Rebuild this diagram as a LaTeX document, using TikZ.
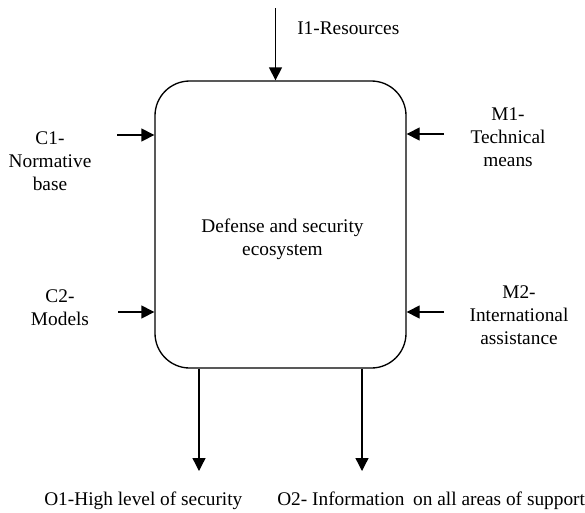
\documentclass[tikz,border=0pt]{standalone}
\usepackage{fontspec}
\setmainfont{Liberation Serif}
\usetikzlibrary{arrows.meta}
\begin{document}
\begin{tikzpicture}[x=0.75pt,y=-0.75pt,
  every node/.style={inner sep=0pt, font=\fontsize{14.5}{17.25}\selectfont},
  lbl/.style={anchor=base},
  flow/.style={line width=1pt, -{Triangle[length=9.75pt,width=9.75pt]}},
]
\useasboundingbox (0,0) rectangle (585,512);

% central activity box
\node[draw, line width=1pt, rounded corners=26pt,
      minimum width=188.25pt, minimum height=215.25pt] (eco) at (280.5,224.5) {};
\node[lbl] (teco) at (282.5,232)
  {\begin{tabular}[t]{@{}c@{}}Defense and security\\ecosystem\end{tabular}};

% free ends of the connectors
\coordinate (i1) at (275.5,8);
\coordinate (c1) at (117,135);
\coordinate (m1) at (444,134);
\coordinate (c2) at (118,312);
\coordinate (m2) at (444,312);
\coordinate (o1) at (199,471);
\coordinate (o2) at (362,471);

% inputs, controls, mechanisms, outputs
\draw[flow] (i1) -- (i1 |- eco.north);
\draw[flow] (c1) -- (c1 -| eco.west);
\draw[flow] (c2) -- (c2 -| eco.west);
\draw[flow] (m1) -- (m1 -| eco.east);
\draw[flow] (m2) -- (m2 -| eco.east);
\draw[flow] (o1 |- eco.south) -- (o1);
\draw[flow] (o2 |- eco.south) -- (o2);

% labels
\node[anchor=base west] (ti1) at (297,34) {I1-Resources};
\node[lbl] (tc1) at (50,144)
  {\begin{tabular}[t]{@{}c@{}}C1-\\Normative\\base\end{tabular}};
\node[lbl] (tc2) at (60,302)
  {\begin{tabular}[t]{@{}c@{}}C2-\\Models\end{tabular}};
\node[lbl] (tm1) at (508,120)
  {\begin{tabular}[t]{@{}c@{}}M1-\\Technical\\means\end{tabular}};
\node[lbl] (tm2) at (519,298)
  {\begin{tabular}[t]{@{}c@{}}M2-\\International\\assistance\end{tabular}};
\node[anchor=base west] (to1) at (44,505.5) {O1-High level of security};
\node[anchor=base west] (to2) at (277,505.5) {O2- Information\hspace{0.2em} on all areas of support};
\end{tikzpicture}
\end{document}
